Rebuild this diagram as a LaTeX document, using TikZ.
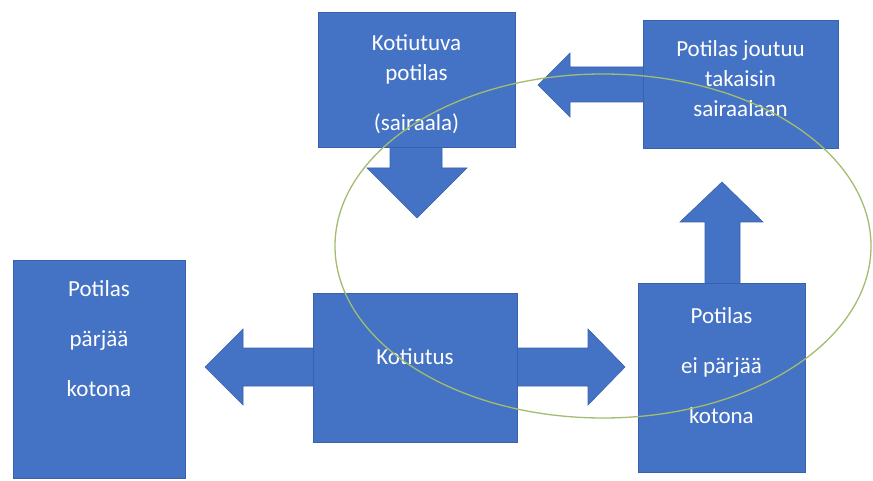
\documentclass[tikz,border=0pt]{standalone}
\usepackage{fontspec}
\setmainfont{Carlito}
\definecolor{boxblue}{HTML}{4472C4}
\definecolor{boxedge}{HTML}{3A62AC}
\definecolor{ringgreen}{HTML}{A3BC70}
\begin{document}
\begin{tikzpicture}[x=1pt,y=-1pt,
  blockbox/.style={fill=boxblue, draw=boxedge, line width=0.8pt, inner sep=0pt},
  blockarrow/.style={fill=boxblue, draw=boxedge, line width=0.6pt, line join=miter},
  boxtext/.style={text=white, align=center, inner sep=0pt},
  tight/.style={font=\fontsize{23}{30}\selectfont},
  loose/.style={font=\fontsize{23}{50}\selectfont}]
\useasboundingbox[fill=white] (0,0) rectangle (873,481);

% block arrows (behind boxes)
\fill[blockarrow] (390,140) -- (442,140) -- (442,168) -- (467,168) -- (417,218) -- (367,168) -- (390,168) -- cycle;
\fill[blockarrow] (650,67) -- (570,67) -- (570,53) -- (538,85) -- (570,117) -- (570,102) -- (650,102) -- cycle;
\fill[blockarrow] (705,290) -- (705,222) -- (680,222) -- (722,182) -- (763,222) -- (740,222) -- (740,290) -- cycle;
\fill[blockarrow] (205,367) -- (243,329) -- (243,348) -- (588,348) -- (588,329) -- (625,367) -- (588,405) -- (588,386) -- (243,386) -- (243,405) -- cycle;

% boxes
\node[blockbox, minimum width=197, minimum height=135] (kp) at (416.5,79.5) {};
\node[blockbox, minimum width=195, minimum height=128] (jt) at (740.5,84) {};
\node[blockbox, minimum width=172, minimum height=218] (pk) at (99,369) {};
\node[blockbox, minimum width=204, minimum height=149] (ko) at (415,367.5) {};
\node[blockbox, minimum width=167, minimum height=189] (ep) at (721.5,377.5) {};

% texts
\node[boxtext, tight] (kpt) at (416.5,84) {Kotiutuva\\potilas\\[20pt](sairaala)};
\node[boxtext, tight] (jtt) at (740.5,79) {Potilas joutuu\\takaisin\\sairaalaan};
\node[boxtext, loose] (pkt) at (99,339) {Potilas\\pärjää\\kotona};
\node[boxtext, tight] (kot) at (415,357) {Kotiutus};
\node[boxtext, loose] (ept) at (721.5,366) {Potilas\\ei pärjää\\kotona};

% ring
\draw[ringgreen, line width=1.3pt] (603,246) ellipse [x radius=268, y radius=172];
\end{tikzpicture}
\end{document}
